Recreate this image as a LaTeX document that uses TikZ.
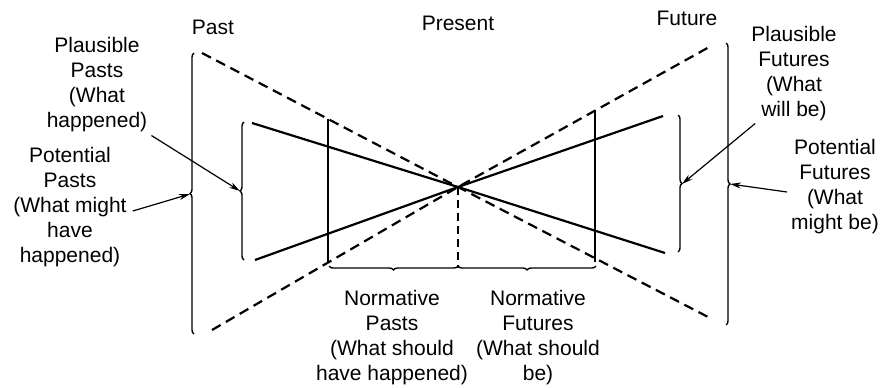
\documentclass[tikz,border=0pt]{standalone}
\usepackage{fontspec}
\setmainfont{Liberation Sans}
\usetikzlibrary{decorations.pathreplacing,arrows.meta}
\begin{document}
\begin{tikzpicture}[x=1pt,y=-1pt,
 lbl/.style={align=center,font=\fontsize{21}{25}\selectfont,inner sep=0pt},
 xline/.style={line width=2.2pt},
 dline/.style={line width=2.2pt,dash pattern=on 10pt off 6pt},
 brc/.style={decorate,decoration={brace,amplitude=4pt,aspect=0.5},line width=1.4pt},
 arr/.style={line width=1.2pt,-{Stealth[length=11pt,width=6pt]}},
 vline/.style={line width=1.4pt}]
\useasboundingbox (0,0) rectangle (881,388);
% key points
\coordinate (c) at (458,187);
\coordinate (d1) at (202,53);
\coordinate (d2) at (212,330);
\coordinate (d3) at (711,46);
\coordinate (d4) at (710,318);
\coordinate (s1) at (252,123);
\coordinate (s2) at (255,260);
\coordinate (s3) at (663,116);
\coordinate (s4) at (665,253);
% X lines
\draw[dline] (d1) -- (c) -- (d4);
\draw[dline] (d2) -- (c) -- (d3);
\draw[xline] (s1) -- (c) -- (s4);
\draw[xline] (s2) -- (c) -- (s3);
% verticals
\coordinate (v1t) at (328,119);
\coordinate (v1b) at (328,262);
\coordinate (v2t) at (595,110);
\coordinate (v2b) at (595,262);
\coordinate (cb) at (458,268);
\draw[vline] (v1t) -- (v1b);
\draw[vline] (v2t) -- (v2b);
\draw[line width=1.4pt,dash pattern=on 8pt off 5pt] (c) -- (cb);
% braces
\coordinate (bL1) at (194,334); \coordinate (bL2) at (194,53);
\coordinate (bl1) at (244,260); \coordinate (bl2) at (244,122);
\coordinate (bR1) at (726,43);  \coordinate (bR2) at (726,325);
\coordinate (br1) at (678,115); \coordinate (br2) at (678,252);
\coordinate (bb1) at (458,266); \coordinate (bb0) at (329,266);
\coordinate (bb2) at (596,266);
\draw[brc] (bL1) -- (bL2);
\draw[brc] (bl1) -- (bl2);
\draw[brc] (bR1) -- (bR2);
\draw[brc] (br1) -- (br2);
\draw[brc] (bb1) -- (bb0);
\draw[brc] (bb2) -- (bb1);
\coordinate (tL) at (190,194);
\coordinate (tl) at (240,191);
\coordinate (tR) at (730,184);
\coordinate (tr) at (682,184);
% labels
\node[lbl] (past) at (213,27) {Past};
\node[lbl] (present) at (458,23) {Present};
\node[lbl] (future) at (687,18) {Future};
\node[lbl] (plp) at (97,85) {Plausible\\Pasts\\(What\\happened)};
\node[lbl] (pop) at (70,207) {Potential\\Pasts\\(What might\\have\\happened)};
\node[lbl] (plf) at (794,74) {Plausible\\Futures\\(What\\will be)};
\node[lbl] (pof) at (835,187) {Potential\\Futures\\(What\\might be)};
\node[lbl] (np) at (392,338) {Normative\\Pasts\\(What should\\have happened)};
\node[lbl] (nf) at (538,338) {Normative\\Futures\\(What should\\be)};
% arrows
\draw[arr] ([xshift=4pt,yshift=-3pt]plp.south east) -- (tl);
\draw[arr] ([xshift=6pt,yshift=-4pt]pop.east) -- (tL);
\draw[arr] ([xshift=4pt,yshift=-2pt]plf.south west) -- (tr);
\draw[arr] ([xshift=-4pt,yshift=-5pt]pof.west) -- (tR);
\end{tikzpicture}
\end{document}
